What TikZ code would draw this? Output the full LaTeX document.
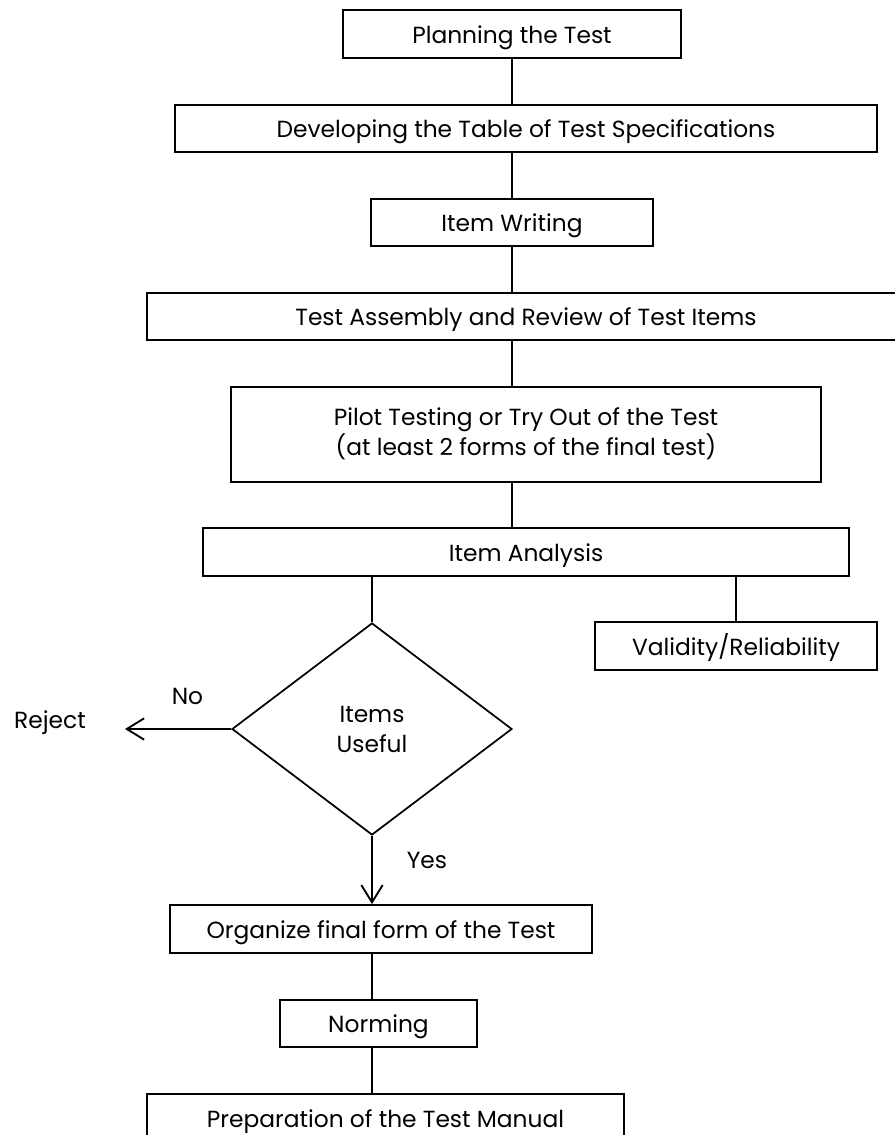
\documentclass[tikz,border=0pt]{standalone}
\usepackage{fontspec}
\setmainfont{Poppins}
\usetikzlibrary{arrows.meta,shapes.geometric}
\begin{document}
\begin{tikzpicture}[x=0.75pt,y=-0.75pt,
  txt/.style={font=\fontsize{17.5}{22.5}\selectfont},
  stage/.style={txt,draw,line width=1.3pt,rectangle,inner sep=0pt,align=center},
  oneline/.style={stage,text height=15.5pt,text depth=2pt},
  decision/.style={txt,draw,line width=1.3pt,diamond,inner sep=0pt,align=center},
  link/.style={line width=1.4pt},
  flow/.style={link,-{Straight Barb[length=13pt,width=16pt,line width=1.4pt]}},
  tag/.style={txt,inner sep=0pt}
]
\useasboundingbox (0,0) rectangle (895,1135);

% process stages
\node[oneline,minimum width=253.5pt,minimum height=36pt]    (plan)     at (512,34)    {Planning the Test};
\node[oneline,minimum width=526.5pt,minimum height=35.25pt] (spec)     at (526,128.5) {Developing the Table of Test Specifications};
\node[oneline,minimum width=211.5pt,minimum height=35.25pt] (write)    at (512,222.5) {Item Writing};
\node[oneline,minimum width=568.5pt,minimum height=35.25pt] (assembly) at (526,316.5) {Test Assembly and Review of Test Items};
\node[stage,minimum width=442.5pt,minimum height=71.25pt]   (pilot)    at (526,434.5) {\raisebox{8pt}{\begin{tabular}{@{}c@{}}Pilot Testing or Try Out of the Test\\(at least 2 forms of the final test)\end{tabular}}};
\node[oneline,minimum width=484.5pt,minimum height=36pt]    (analysis) at (526,552)   {Item Analysis};
\node[oneline,minimum width=211.5pt,minimum height=36pt]    (valid)    at (736,646)   {Validity/Reliability};
\node[decision,minimum width=210pt,minimum height=159pt]    (decide)   at (372,729)   {Items\\Useful};
\node[oneline,minimum width=316.5pt,minimum height=36pt]    (organize) at (381,929)   {Organize final form of the Test};
\node[oneline,minimum width=147.75pt,minimum height=35.25pt] (norming) at (378.5,1023.5) {Norming};
\node[oneline,minimum width=357.75pt,minimum height=36pt]   (manual)   at (385.5,1118) {Preparation of the Test Manual};

% side labels
\node[tag] (reject) at (50,723)  {Reject};
\node[tag] (no)     at (187.5,696) {No};
\node[tag] (yes)    at (427,860) {Yes};

% guide columns for the connectors
\coordinate (spine) at (512,0);
\coordinate (lower) at (372,0);
\coordinate (rejtip) at (125,729);

% connectors
\draw[link] (plan.south) -- (plan.south |- spec.north);
\draw[link] (spine |- spec.south) -- (write.north);
\draw[link] (write.south) -- (spine |- assembly.north);
\draw[link] (spine |- assembly.south) -- (spine |- pilot.north);
\draw[link] (spine |- pilot.south) -- (spine |- analysis.north);
\draw[link] (decide.north |- analysis.south) -- (decide.north);
\draw[link] (valid.north |- analysis.south) -- (valid.north);
\draw[flow] (decide.west) -- (rejtip);
\draw[flow] (decide.south) -- (lower |- organize.north);
\draw[link] (lower |- organize.south) -- (lower |- norming.north);
\draw[link] (lower |- norming.south) -- (lower |- manual.north);
\end{tikzpicture}
\end{document}
